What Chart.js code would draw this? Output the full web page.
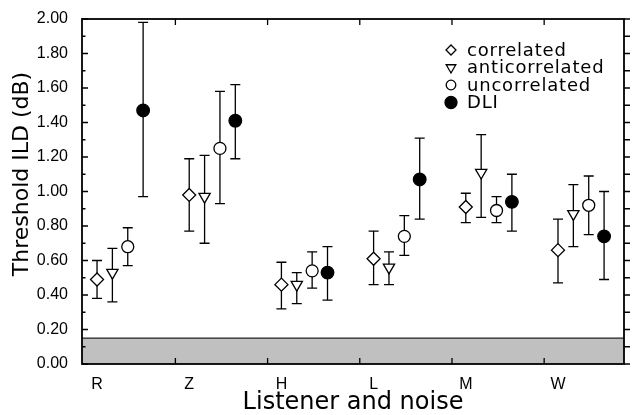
<!DOCTYPE html>
<html>
<head>
<meta charset="utf-8">
<script src="https://cdn.jsdelivr.net/npm/chart.js@4.4.1/dist/chart.umd.min.js"></script>
<style>
  html, body { margin: 0; padding: 0; background: #fff; }
  #wrap { width: 634px; height: 415px; }
</style>
</head>
<body>
<div id="wrap"><canvas id="ildChart"></canvas></div>
<script>
// listeners along the x axis
const listeners = ['R', 'Z', 'H', 'L', 'M', 'W'];

// threshold ILD (dB) with lower / upper ends of the error bars
const correlated      = [0.49, 0.98, 0.46, 0.61, 0.91, 0.66];
const correlatedLow   = [0.38, 0.77, 0.32, 0.46, 0.82, 0.47];
const correlatedHigh  = [0.60, 1.19, 0.59, 0.77, 0.99, 0.84];

const anticorrelated     = [0.53, 0.97, 0.46, 0.56, 1.11, 0.87];
const anticorrelatedLow  = [0.36, 0.70, 0.35, 0.46, 0.85, 0.68];
const anticorrelatedHigh = [0.67, 1.21, 0.53, 0.65, 1.33, 1.04];

const uncorrelated     = [0.68, 1.25, 0.54, 0.74, 0.89, 0.92];
const uncorrelatedLow  = [0.57, 0.93, 0.44, 0.63, 0.82, 0.75];
const uncorrelatedHigh = [0.79, 1.58, 0.65, 0.86, 0.97, 1.09];

const dli     = [1.47, 1.41, 0.53, 1.07, 0.94, 0.74];
const dliLow  = [0.97, 1.19, 0.37, 0.84, 0.77, 0.49];
const dliHigh = [1.98, 1.62, 0.68, 1.31, 1.10, 1.00];

// shaded floor region (dB)
const floorBand = [0, 0.15];

function series(vals, lows, highs, k) {
  return vals.map((v, i) => ({ x: i + k / 6, y: v, lo: lows[i], hi: highs[i] }));
}

function marker(ctx, style, x, y, r, fill) {
  ctx.beginPath();
  if (style === 'diamond') {
    ctx.moveTo(x, y - r); ctx.lineTo(x + r, y); ctx.lineTo(x, y + r); ctx.lineTo(x - r, y);
    ctx.closePath();
  } else if (style === 'down') {
    ctx.moveTo(x - r * 0.87, y - r * 0.5); ctx.lineTo(x + r * 0.87, y - r * 0.5); ctx.lineTo(x, y + r);
    ctx.closePath();
  } else {
    ctx.arc(x, y, r, 0, Math.PI * 2);
  }
  ctx.fillStyle = fill;
  ctx.fill();
  ctx.stroke();
}

const decor = {
  id: 'decor',
  beforeDatasetsDraw(chart) {
    const { ctx, chartArea: a, scales: { x, y } } = chart;
    ctx.save();
    // gray band
    const yTop = y.getPixelForValue(floorBand[1]);
    const yBot = y.getPixelForValue(floorBand[0]);
    ctx.fillStyle = '#c0c0c0';
    ctx.fillRect(a.left, yTop, a.right - a.left, yBot - yTop);
    ctx.strokeStyle = '#222';
    ctx.lineWidth = 1.2;
    ctx.beginPath(); ctx.moveTo(a.left, yTop); ctx.lineTo(a.right, yTop); ctx.stroke();
    // error bars
    ctx.lineWidth = 1.3;
    ctx.strokeStyle = '#000';
    chart.data.datasets.forEach(ds => {
      ds.data.forEach(p => {
        const px = x.getPixelForValue(p.x);
        const lo = y.getPixelForValue(p.lo);
        const hi = y.getPixelForValue(p.hi);
        ctx.beginPath();
        ctx.moveTo(px, lo); ctx.lineTo(px, hi);
        ctx.moveTo(px - 5, lo); ctx.lineTo(px + 5, lo);
        ctx.moveTo(px - 5, hi); ctx.lineTo(px + 5, hi);
        ctx.stroke();
      });
    });
    ctx.restore();
  },
  afterDraw(chart) {
    const { ctx, chartArea: a, scales: { x, y } } = chart;
    ctx.save();
    ctx.strokeStyle = '#000';
    ctx.lineWidth = 1.8;
    ctx.strokeRect(a.left, a.top, a.right - a.left, a.bottom - a.top);
    ctx.lineWidth = 1.3;
    ctx.beginPath();
    for (let i = 0; i <= 20; i++) {
      const py = y.getPixelForValue(i / 10);
      const len = i % 2 === 0 ? 6 : 3.5;
      ctx.moveTo(a.left, py); ctx.lineTo(a.left + len, py);
      ctx.moveTo(a.right, py); ctx.lineTo(a.right + 6, py);
    }
    for (let i = 0; i < listeners.length - 1; i++) {
      const px = x.getPixelForValue(i + 0.85);
      ctx.moveTo(px, a.bottom); ctx.lineTo(px, a.bottom - 6);
      ctx.moveTo(px, a.top); ctx.lineTo(px, a.top + 6);
    }
    ctx.stroke();

    // legend inside the plot
    const lx = a.right - 173, tx = a.right - 157;
    const rows = [
      ['correlated', 'diamond', 5, '#fff'],
      ['anticorrelated', 'down', 5.5, '#fff'],
      ['uncorrelated', 'circle', 4.8, '#fff'],
      ['DLI', 'circle', 6, '#000']
    ];
    ctx.font = '18px "DejaVu Sans"';
    ctx.letterSpacing = '0.8px';
    ctx.textBaseline = 'middle';
    ctx.lineWidth = 1.3;
    rows.forEach((r, i) => {
      const ry = a.top + 31 + i * 17.5;
      marker(ctx, r[1], lx, ry, r[2], r[3]);
      ctx.fillStyle = '#000';
      ctx.fillText(r[0], tx, ry + 1);
    });
    ctx.restore();
  }
};

const common = { showLine: false, borderColor: '#000', borderWidth: 1.3, pointHoverRadius: 6 };

new Chart(document.getElementById('ildChart'), {
  type: 'scatter',
  data: {
    datasets: [
      { ...common, label: 'correlated', data: series(correlated, correlatedLow, correlatedHigh, 0),
        pointStyle: 'rectRot', pointRadius: 6.5, backgroundColor: '#fff' },
      { ...common, label: 'anticorrelated', data: series(anticorrelated, anticorrelatedLow, anticorrelatedHigh, 1),
        pointStyle: 'triangle', rotation: 180, pointRotation: 180, pointRadius: 6.5, backgroundColor: '#fff' },
      { ...common, label: 'uncorrelated', data: series(uncorrelated, uncorrelatedLow, uncorrelatedHigh, 2),
        pointStyle: 'circle', pointRadius: 6, backgroundColor: '#fff' },
      { ...common, label: 'DLI', data: series(dli, dliLow, dliHigh, 3),
        pointStyle: 'circle', pointRadius: 6.3, backgroundColor: '#000' }
    ]
  },
  options: {
    responsive: true,
    maintainAspectRatio: false,
    animation: false,
    layout: { padding: { top: 19, right: 10, left: 0, bottom: 0 } },
    plugins: { legend: { display: false }, tooltip: { enabled: false } },
    scales: {
      x: {
        type: 'linear',
        min: -0.163,
        max: 5.716,
        grid: { display: false },
        border: { display: false },
        afterBuildTicks: s => { s.ticks = listeners.map((_, i) => ({ value: i })); },
        afterFit: s => { s.height = 51; },
        ticks: {
          autoSkip: false,
          maxRotation: 0,
          padding: 3,
          color: '#000',
          font: { family: '"Liberation Sans", Arial, sans-serif', size: 16 },
          callback: v => listeners[v] ?? ''
        },
        title: {
          display: true,
          text: 'Listener and noise',
          color: '#000',
          font: { family: '"DejaVu Sans"', size: 24, lineHeight: 1 },
          padding: { top: 0, bottom: 0 }
        }
      },
      y: {
        min: 0,
        max: 2,
        grid: { display: false },
        border: { display: false },
        afterFit: s => { s.width = 82; },
        ticks: {
          stepSize: 0.2,
          padding: 6,
          color: '#000',
          font: { family: '"Liberation Sans", Arial, sans-serif', size: 16 },
          callback: v => v.toFixed(2)
        },
        title: {
          display: true,
          text: '     Threshold ILD (dB)',
          color: '#000',
          font: { family: '"DejaVu Sans"', size: 22, lineHeight: 1 },
          padding: { top: 11, bottom: 0 }
        }
      }
    }
  },
  plugins: [decor]
});
</script>
</body>
</html>
